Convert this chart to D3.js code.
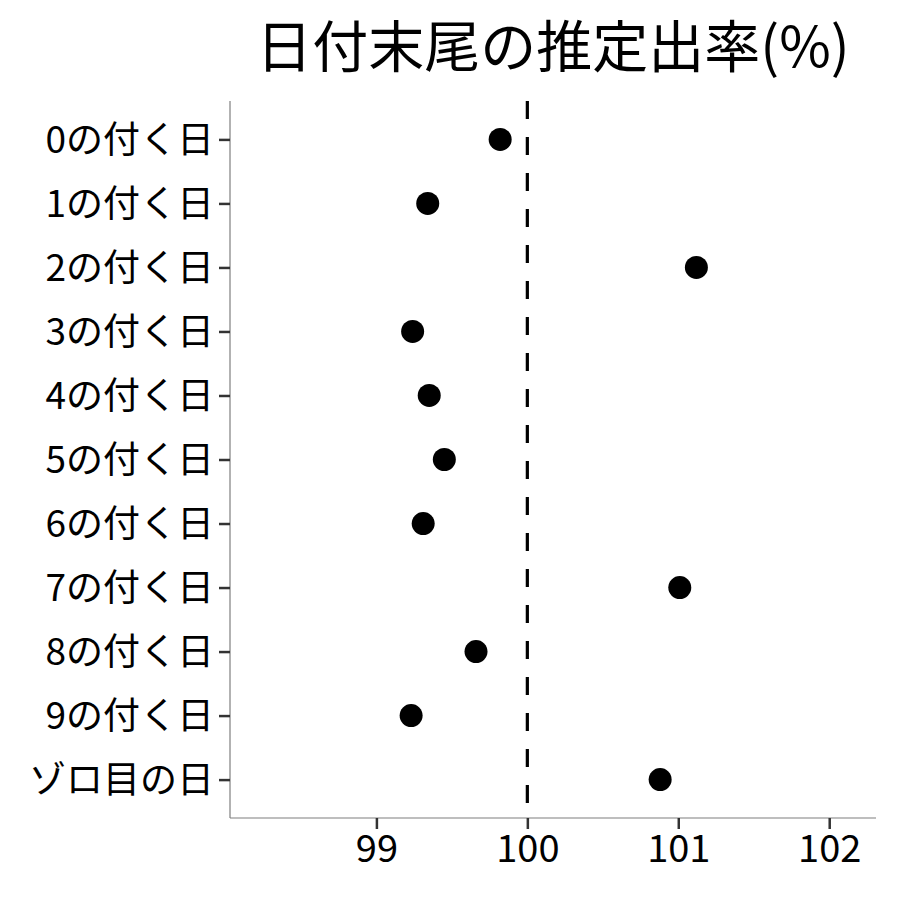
<!DOCTYPE html>
<html>
<head>
<meta charset="utf-8">
<script src="https://cdn.jsdelivr.net/npm/d3@7"></script>
<style>
  body { margin: 0; background: #fff; }
  text { font-family: "Noto Sans CJK JP", "Noto Sans", sans-serif; }
</style>
</head>
<body>
<svg width="900" height="900"></svg>
<script>
// データ
var categories = ["0の付く日", "1の付く日", "2の付く日", "3の付く日", "4の付く日", "5の付く日",
                  "6の付く日", "7の付く日", "8の付く日", "9の付く日", "ゾロ目の日"];
var rates = [99.82, 99.34, 101.12, 99.24, 99.35, 99.45, 99.31, 101.01, 99.66, 99.23, 100.88];
var xTicks = [99, 100, 101, 102];
var refValue = 100;
var title = "日付末尾の推定出率(%)";

var svg = d3.select("svg"),
    margin = {top: 101, right: 24, bottom: 82, left: 230},
    width = +svg.attr("width") - margin.left - margin.right,
    height = +svg.attr("height") - margin.top - margin.bottom;

var g = svg.append("g").attr("transform", "translate(" + margin.left + "," + margin.top + ")");

var x = d3.scaleLinear().domain([98.03, 102.31]).range([0, width]);
var y = d3.scalePoint().domain(categories).range([0, height]).padding(0.6);

// 軸線
g.append("line").attr("x1", 0).attr("x2", 0).attr("y1", 0).attr("y2", height)
  .attr("stroke", "#7f7f7f").attr("stroke-width", 1.2);
g.append("line").attr("x1", 0).attr("x2", width).attr("y1", height).attr("y2", height)
  .attr("stroke", "#7f7f7f").attr("stroke-width", 1.2);

// y軸
var yAxis = g.append("g").call(d3.axisLeft(y).tickSize(11).tickPadding(5));
yAxis.select(".domain").remove();
yAxis.selectAll(".tick line").attr("stroke", "#333").attr("stroke-width", 2.5);
yAxis.selectAll(".tick text").attr("fill", "#000").style("font-size", "37px").attr("dy", "0.36em");

// x軸
var xAxis = g.append("g").attr("transform", "translate(0," + height + ")")
  .call(d3.axisBottom(x).tickValues(xTicks).tickSize(11).tickPadding(6).tickFormat(d3.format("d")));
xAxis.select(".domain").remove();
xAxis.selectAll(".tick line").attr("stroke", "#333").attr("stroke-width", 2.5);
xAxis.selectAll(".tick text").attr("fill", "#000").style("font-size", "38px");

// 基準線
g.append("line")
  .attr("x1", x(refValue)).attr("x2", x(refValue))
  .attr("y1", 0).attr("y2", height)
  .attr("stroke", "#000").attr("stroke-width", 3.2)
  .attr("stroke-dasharray", "18,18");

// 点
g.selectAll(".dot")
  .data(categories)
  .enter().append("circle")
  .attr("class", "dot")
  .attr("cx", function(d, i) { return x(rates[i]); })
  .attr("cy", function(d) { return y(d); })
  .attr("r", 11.5)
  .attr("fill", "#000");

// タイトル
svg.append("text")
  .attr("x", margin.left + width / 2)
  .attr("y", 67)
  .attr("text-anchor", "middle")
  .style("font-size", "56px")
  .text(title);
</script>
</body>
</html>
